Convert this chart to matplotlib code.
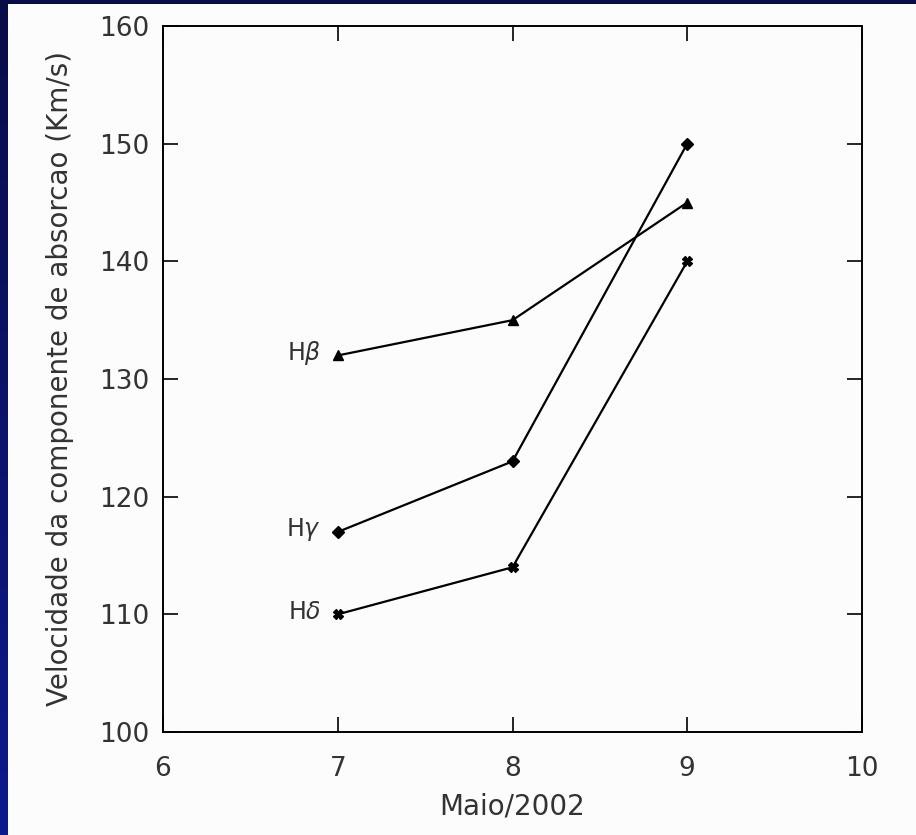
import numpy as np
import matplotlib
matplotlib.use('Agg')
import matplotlib.pyplot as plt
from matplotlib.colors import LinearSegmentedColormap

# Data
days = [7, 8, 9]
h_beta = [132, 135, 145]
h_gamma = [117, 123, 150]
h_delta = [110, 114, 140]
line_labels = ['H$\\beta$', 'H$\\gamma$', 'H$\\delta$']
markers = ['^', 'D', 'X']

x_ticks = [6, 7, 8, 9, 10]
y_ticks = [100, 110, 120, 130, 140, 150, 160]

W, H = 916, 835
fig = plt.figure(figsize=(W / 100, H / 100), dpi=100)

# Slide background: navy gradient with a white panel
bg = fig.add_axes([0, 0, 1, 1], zorder=-10)
grad = np.linspace(0, 1, 256).reshape(-1, 1)
cmap = LinearSegmentedColormap.from_list('navy', ['#0a0c48', '#0e1a8c'])
bg.imshow(grad, aspect='auto', cmap=cmap, extent=[0, 1, 0, 1], origin='upper')
bg.add_patch(plt.Rectangle((8 / W, 0), 1 - 8 / W, 1 - 4 / H, color='#fcfcfc', lw=0))
bg.set_xlim(0, 1)
bg.set_ylim(0, 1)
bg.axis('off')

ax = fig.add_axes([163 / W, 1 - 732 / H, (862 - 163) / W, (732 - 26) / H])
ax.set_facecolor('#fcfcfc')

txt = '#333333'
for vals, mk, lab in zip([h_beta, h_gamma, h_delta], markers, line_labels):
    ax.plot(days, vals, color='black', lw=1.6, marker=mk, ms=6.5,
            mfc='black', mec='black')
    ax.annotate(lab, (days[0], vals[0]), xytext=(-12, 2), textcoords='offset points',
                ha='right', va='center', fontsize=17, color=txt)

ax.set_xlim(6, 10)
ax.set_ylim(100, 160)
ax.set_xticks(x_ticks)
ax.set_yticks(y_ticks)
ax.tick_params(direction='in', length=11, width=1.2, top=True, right=True,
               labelsize=19, labelcolor=txt)
ax.tick_params(axis='x', pad=17)
ax.tick_params(axis='y', pad=10)
for s in ax.spines.values():
    s.set_linewidth(1.4)

ax.set_xlabel('Maio/2002', fontsize=20, color=txt, labelpad=8)
ax.set_ylabel('Velocidade da componente de absorcao (Km/s)', fontsize=20,
              color=txt, labelpad=18)

fig.savefig('out.png', dpi=100)
